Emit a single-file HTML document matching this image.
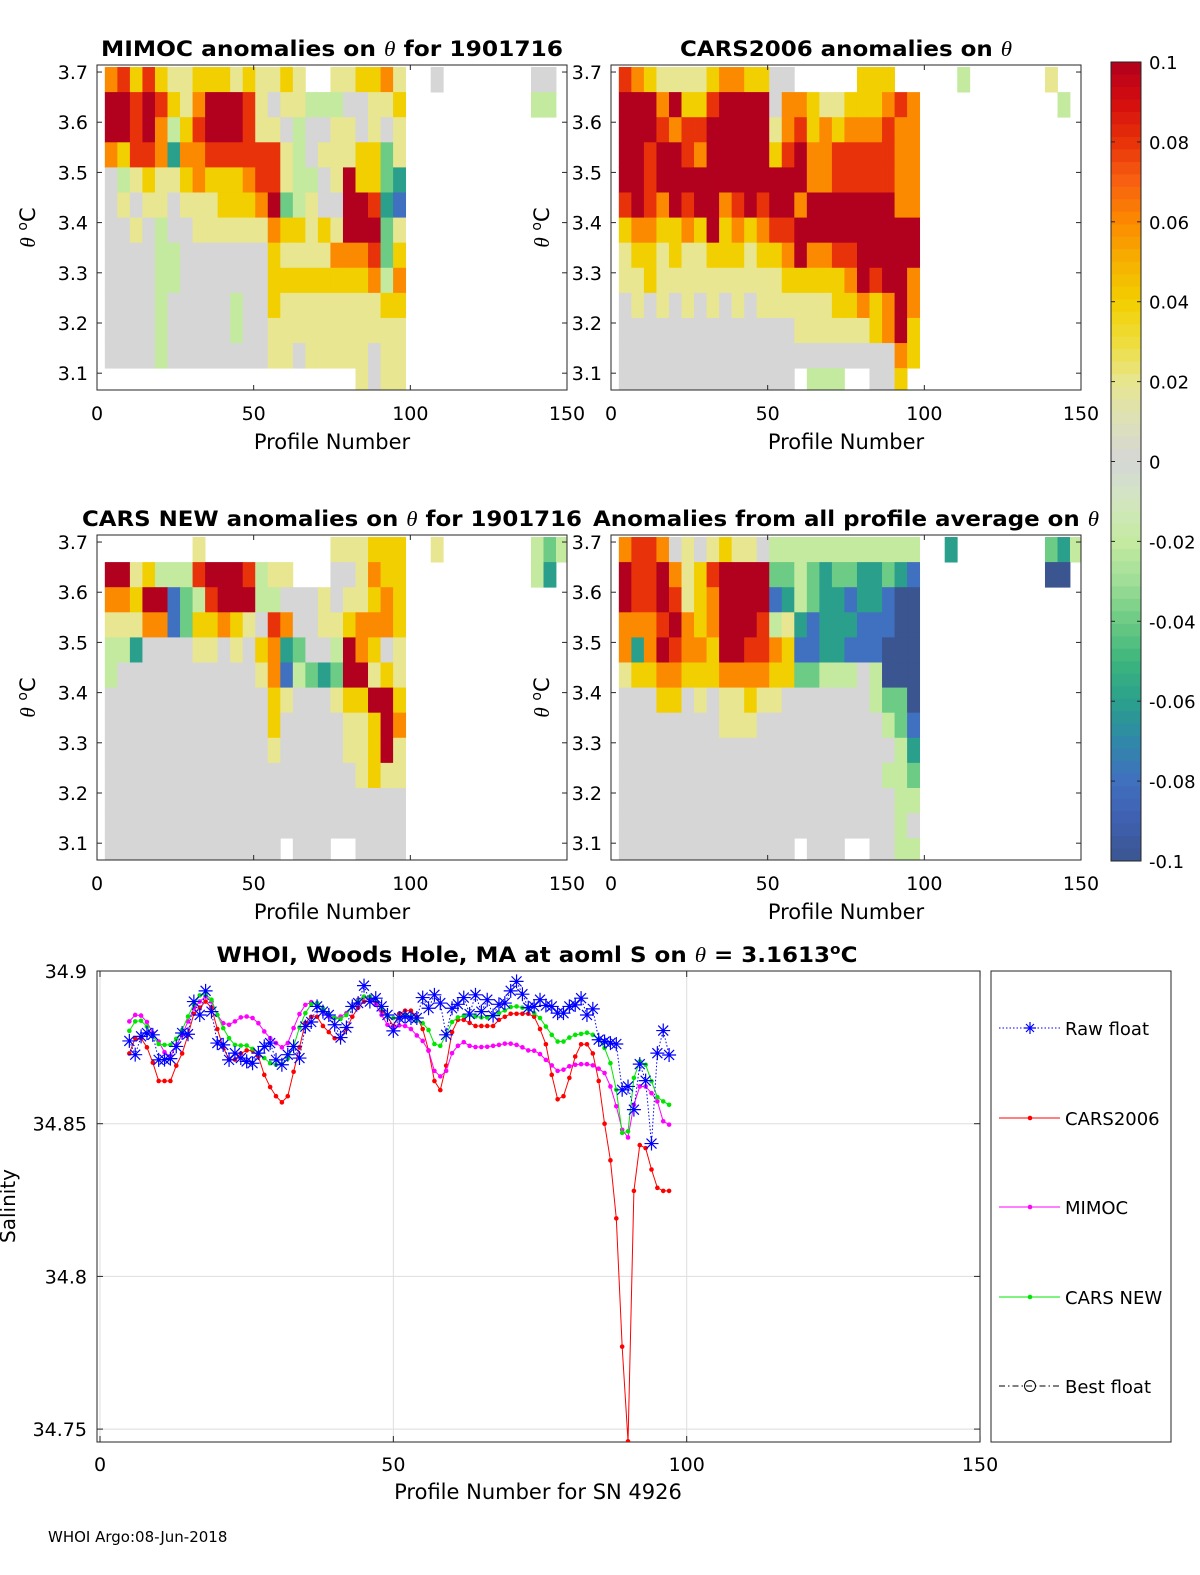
<!DOCTYPE html>
<html><head><meta charset="utf-8">
<style>
html,body{margin:0;padding:0;background:#fff;}
svg{display:block;}
text{font-family:"DejaVu Sans","Liberation Sans",sans-serif;fill:#000;}
</style></head>
<body>
<svg id="fig" width="1200" height="1575" viewBox="0 0 1200 1575" xmlns="http://www.w3.org/2000/svg"></svg>
<script>
// ---------- heatmap data (one char per 4-profile column, per theta row) ----------
// char code: 'A'=-0.1 ... 'F'=0 ... 'K'=0.1 (step 0.02); '.' = no data
const thetaRowTops = [3.71,3.66,3.61,3.56,3.51,3.46,3.41,3.36,3.31,3.26,3.21,3.16,3.11];
const colStartProfile = 2.5;
const colWidthProfiles = 4;
const mimocRows = [
"IJHJHGGHHHGHGGHG..GGHHIG..F.......FF.",
"KKJKJHGIKKKJGFGGEEEFFGGH..........EE.",
"KKJKIEHJKKKJGGFEFFGGFGFG",
"IHJJICIIJJJJJJGEFGGGHHDG",
"FEGHGGHIHHHIJJGEEFGKHHDC",
"FGFGGFGGGHHHIKDEGFFKKJCB",
"FFGFEFFGGGGGGIHHGHGKKKDG",
"FFFFEEFFFFFFFHGGGGIIIJDH",
"FFFFEEFFFFFFFHHHHHHHHIEI",
"FFFFEFFFFFEFFHGGGGGGGGHH",
"FFFFEFFFFFEFFGGGGGGGGGGG",
"FFFFEFFFFFFFFGGFGGGGGFGG",
"....................GFGG"];
const cars2006Rows = [
"JIHGGGGHIIHHFF.....HHH.....E......G..",
"KKKIKHHJKKKKFIIHGGHHHIJI...........E.",
"KKKJIJJKKKKKGIJHIHIIIJII",
"KKJKKJIKKKKKHJKIIJJJJJII",
"KKJKKKKKKKKKKKKIIJJJJJII",
"JKJIKJKKIJKJKKIKKKKKKKII",
"HIIHHIHKHIHIJJKKKKKKKKKK",
"GHHGHGGHHHGHHIKIIJJKKKKK",
"GGHGGGGGGGGGGHHHHHIKJKKI",
"FGFGFGFGFGFGGGGGGHHIHIKI",
"FFFFFFFFFFFFFFGGGGGGHIKH",
"FFFFFFFFFFFFFFFFFFFFFFIH",
"FFFFFFFFFFFFFF.EEE..FFH."];
const carsNewRows = [
".......G..........GGGHHH..G.......EDE",
"KKGHEEEJKKKJEGG...FFGIHH..........EC.",
"IIHKKBDEJKKKEEFFFGFGGHIH",
"GGGIIBDHHIHGFJIFFGGHIIIH",
"EECFFFFGGFGFHICDFFEKIHFG",
"EFFFFFFFFFFFGIBEDCDKKGHG",
"FFFFFFFFFFFFFHGFFFGHHKKH",
"FFFFFFFFFFFFFHFFFFFGGHKI",
"FFFFFFFFFFFFFGFFFFFGGHKG",
"FFFFFFFFFFFFFFFFFFFFGHGG",
"FFFFFFFFFFFFFFFFFFFFFFFF",
"FFFFFFFFFFFFFFFFFFFFFFFF",
"FFFFFFFFFFFFFF.FFF..FFFF"];
const avgRows = [
"IJJIFGFGHGGFEEEEEEEEEEEE..C.......DCE",
"KJJKIGHJKKKKDDEDCDDCCDCB..........AA.",
"KJJKJGHIKKKKBCEDCCBCCBAA",
"IIIJKIHIKKKJEGCBCCCBBBAA",
"ICIKJIIHKKJJIHBBCCBBBAAA",
"GHHIIHHHIIIIHHDDEEEFEAAA",
"FFFHHFGFGGHGGFFFFFFFEDDA",
"FFFFFFFFGGGFFFFFFFFFFEDB",
"FFFFFFFFFFFFFFFFFFFFFFEC",
"FFFFFFFFFFFFFFFFFFFFFEED",
"FFFFFFFFFFFFFFFFFFFFFFEE",
"FFFFFFFFFFFFFFFFFFFFFFEF",
"FFFFFFFFFFFFFF.FFF..FFEE"];
const thetaTicks = [3.1,3.2,3.3,3.4,3.5,3.6,3.7];
const profileTicks = [0,50,100,150];
const cbarTicks = [0.1,0.08,0.06,0.04,0.02,0,-0.02,-0.04,-0.06,-0.08,-0.1];
const cbarTickLabels = ["0.1","0.08","0.06","0.04","0.02","0","-0.02","-0.04","-0.06","-0.08","-0.1"];

// ---------- salinity line data (profiles 5..97) ----------
const profiles = [];
for (let p = 5; p <= 97; p++) profiles.push(p);
const rawFloat = [34.8771,34.8726,34.8786,34.8797,34.8791,34.8709,34.871,34.8713,34.8753,34.8797,34.8793,34.890,34.8856,34.8935,34.8867,34.8764,34.8758,34.8709,34.8731,34.8715,34.8704,34.8698,34.8731,34.8753,34.8764,34.8709,34.8693,34.8726,34.8753,34.8715,34.8818,34.8833,34.8884,34.8867,34.8856,34.8824,34.8782,34.8815,34.8884,34.8895,34.8952,34.890,34.8911,34.8884,34.8856,34.8804,34.8846,34.8851,34.8846,34.8846,34.8913,34.8878,34.8922,34.8895,34.8791,34.8878,34.8891,34.8913,34.8859,34.8922,34.8867,34.8906,34.8854,34.8891,34.8895,34.8935,34.8966,34.8924,34.888,34.8884,34.8906,34.8887,34.8884,34.8862,34.8862,34.8884,34.8889,34.8911,34.8856,34.8876,34.8775,34.8769,34.8764,34.8761,34.8611,34.8622,34.8546,34.8695,34.8641,34.8435,34.8731,34.8805,34.8725];
const cars2006 = [34.873,34.878,34.878,34.875,34.870,34.864,34.864,34.864,34.869,34.873,34.879,34.886,34.888,34.890,34.888,34.881,34.875,34.871,34.871,34.873,34.874,34.874,34.872,34.866,34.862,34.859,34.857,34.859,34.867,34.875,34.883,34.885,34.885,34.882,34.880,34.878,34.878,34.881,34.885,34.888,34.890,34.891,34.890,34.887,34.885,34.882,34.886,34.887,34.887,34.885,34.881,34.874,34.864,34.861,34.869,34.880,34.884,34.884,34.883,34.882,34.882,34.882,34.882,34.884,34.885,34.886,34.886,34.886,34.886,34.885,34.881,34.876,34.866,34.858,34.859,34.865,34.872,34.876,34.876,34.873,34.864,34.850,34.838,34.819,34.777,34.746,34.828,34.843,34.842,34.835,34.829,34.828,34.828];
const mimoc = [34.8835,34.8856,34.8854,34.8833,34.8797,34.8769,34.8734,34.872,34.8756,34.8791,34.8835,34.8878,34.890,34.8916,34.890,34.8856,34.8829,34.8824,34.8835,34.8848,34.8851,34.8846,34.8829,34.8802,34.878,34.8764,34.875,34.8764,34.8813,34.8859,34.8889,34.8898,34.8889,34.8867,34.8851,34.8846,34.8851,34.8862,34.8884,34.8906,34.8916,34.8911,34.8889,34.8856,34.8824,34.8815,34.8822,34.882,34.881,34.8789,34.8771,34.8739,34.8673,34.8655,34.8673,34.8731,34.8755,34.8767,34.8755,34.8751,34.8751,34.8752,34.8755,34.8758,34.8762,34.8762,34.8758,34.875,34.874,34.8739,34.8728,34.8709,34.8691,34.8673,34.8677,34.8688,34.8693,34.8695,34.8695,34.8691,34.868,34.8666,34.8622,34.8557,34.848,34.8455,34.8562,34.8622,34.8622,34.860,34.8573,34.8508,34.8497];
const carsNew = [34.8804,34.8835,34.8837,34.8818,34.8786,34.8761,34.8758,34.8758,34.8778,34.8807,34.8851,34.8891,34.892,34.8924,34.8906,34.8856,34.8813,34.878,34.8758,34.8756,34.8756,34.8745,34.8731,34.8715,34.8698,34.8693,34.8695,34.8713,34.8753,34.8815,34.8862,34.8891,34.8895,34.8878,34.8859,34.8846,34.8843,34.8856,34.8884,34.8902,34.8916,34.8916,34.8906,34.8878,34.8851,34.8846,34.8848,34.8856,34.8851,34.8837,34.8829,34.8807,34.8761,34.8755,34.8791,34.8833,34.8848,34.8853,34.8856,34.8851,34.8848,34.8848,34.8854,34.8862,34.8871,34.8882,34.8884,34.888,34.8876,34.8862,34.8846,34.8818,34.8791,34.8769,34.8769,34.8782,34.8791,34.8794,34.8798,34.8791,34.8775,34.8748,34.8698,34.8611,34.847,34.8475,34.865,34.8704,34.8693,34.8639,34.8587,34.8573,34.8562];
const salTicks = [34.75,34.8,34.85,34.9];
const salTickLabels = ["34.75","34.8","34.85","34.9"];
const legendLabels = ["Raw float","CARS2006","MIMOC","CARS NEW","Best float"];

const NS = "http://www.w3.org/2000/svg";
const svg = document.getElementById('fig');
function mk(tag, attrs, parent){
  const e = document.createElementNS(NS, tag);
  for (const k in attrs) e.setAttribute(k, attrs[k]);
  (parent||svg).appendChild(e);
  return e;
}
function txt(str, attrs, parent){ const t = mk('text', attrs, parent); t.textContent = str; return t; }

// colormap
const cmapStops = [[-0.1,[58,85,144]],[-0.09,[64,96,176]],[-0.08,[64,112,192]],[-0.07,[48,136,168]],[-0.06,[42,160,140]],[-0.05,[61,181,124]],[-0.04,[108,203,132]],[-0.03,[160,222,152]],[-0.02,[196,234,160]],[-0.01,[210,230,192]],[0,[214,214,214]],[0.01,[221,224,184]],[0.02,[232,230,144]],[0.03,[238,221,58]],[0.04,[242,207,0]],[0.05,[246,176,0]],[0.06,[252,138,0]],[0.07,[248,96,16]],[0.08,[232,51,10]],[0.09,[212,13,13]],[0.1,[178,0,31]]];
function cmap(v){
  v = Math.max(-0.1, Math.min(0.1, v));
  for (let i=0;i<cmapStops.length-1;i++){
    const a=cmapStops[i], b=cmapStops[i+1];
    if (v>=a[0]-1e-9 && v<=b[0]+1e-9){
      const t=(v-a[0])/(b[0]-a[0]);
      const c=a[1].map((x,j)=>Math.round(x+(b[1][j]-x)*t));
      return 'rgb('+c.join(',')+')';
    }
  }
  return '#d6d6d6';
}
function charVal(ch){ return (ch.charCodeAt(0)-70)*0.02; }

const thetaTop=3.714, thetaBot=3.0665;
function drawPanel(x0, y0, rows, title, titleLen, name){
  const W=470, H=325;
  const g = mk('g', {});
  
  
  const xs = p => x0 + p*W/150;
  const ys = th => y0 + (thetaTop-th)/(thetaTop-thetaBot)*H;
  const cid = 'clip-'+name;
  const cp = mk('clipPath', {id:cid}, g);
  mk('rect', {x:x0, y:y0, width:W, height:H}, cp);
  const cells = mk('g', {'clip-path':'url(#'+cid+')'}, g);
  
  
  rows.forEach((row, ri) => {
    const th1 = thetaRowTops[ri], th0 = th1-0.05;
    for (let c=0;c<row.length;c++){
      const ch=row[c];
      if (ch==='.') continue;
      const p0 = colStartProfile + c*colWidthProfiles;
      const r = mk('rect', {x:xs(p0).toFixed(2), y:ys(th1).toFixed(2), width:(xs(p0+colWidthProfiles)-xs(p0)+0.4).toFixed(2), height:(ys(th0)-ys(th1)+0.4).toFixed(2), fill:cmap(charVal(ch))}, cells);
      
      
    }
  });
  const box = mk('rect', {x:x0, y:y0, width:W, height:H, fill:'none', stroke:'#262626', 'stroke-width':1}, g);
  
  
  profileTicks.forEach(p => {
    const x = xs(p);
    mk('line', {x1:x, x2:x, y1:y0+H, y2:y0+H-5, stroke:'#262626'}, g);
    mk('line', {x1:x, x2:x, y1:y0, y2:y0+5, stroke:'#262626'}, g);
    const t = txt(String(p), {x:x, y:y0+H+30, 'font-size':19, 'text-anchor':'middle'}, g);
    
    
  });
  thetaTicks.forEach(th => {
    const y = ys(th);
    mk('line', {x1:x0, x2:x0+5, y1:y, y2:y, stroke:'#262626'}, g);
    mk('line', {x1:x0+W, x2:x0+W-5, y1:y, y2:y, stroke:'#262626'}, g);
    const t = txt(th.toFixed(1), {x:x0-9, y:y+7, 'font-size':19, 'text-anchor':'end'}, g);
    
    
  });
  const xl = txt('Profile Number', {x:x0+W/2, y:y0+H+59, 'font-size':21, 'text-anchor':'middle'}, g);
  
  
  const yl = mk('text', {transform:'translate('+(x0-62)+','+(y0+H/2)+') rotate(-90)', 'font-size':21, 'text-anchor':'middle'}, g);
  yl.innerHTML = '<tspan font-family="Liberation Serif,serif" font-style="italic">θ</tspan> <tspan dy="-8" font-size="14">o</tspan><tspan dy="8">C</tspan>';
  
  
  const tt = txt('', {x:x0+W/2, y:y0-9, 'font-size':21, 'font-weight':'bold', 'text-anchor':'middle', textLength:titleLen, lengthAdjust:'spacingAndGlyphs'}, g);
  tt.innerHTML = title;
  
  
}
const TH = '<tspan font-family="Liberation Serif,serif" font-style="italic" font-weight="normal">θ</tspan>';
drawPanel(97, 65, mimocRows, 'MIMOC anomalies on '+TH+'  for 1901716', 462, 'mimoc-panel');
drawPanel(611, 65, cars2006Rows, 'CARS2006 anomalies on '+TH, 332, 'cars2006-panel');
drawPanel(97, 535, carsNewRows, 'CARS NEW anomalies on '+TH+' for 1901716', 500, 'cars-new-panel');
drawPanel(611, 535, avgRows, 'Anomalies from all profile average on '+TH, 506, 'all-average-panel');

// colorbar
(function(){
  const x=1111, y=62, w=30, h=799;
  const g = mk('g', {});
  
  
  const n=64;
  for (let i=0;i<n;i++){
    const v = 0.1 - (i+0.5)*0.2/n;
    mk('rect', {x:x, y:(y+i*h/n).toFixed(2), width:w, height:(h/n+0.5).toFixed(2), fill:cmap(v)}, g);
  }
  mk('rect', {x:x, y:y, width:w, height:h, fill:'none', stroke:'#262626'}, g);
  cbarTicks.forEach((v,i) => {
    const yy = y + (0.1-v)/0.2*h;
    mk('line', {x1:x, x2:x+4, y1:yy, y2:yy, stroke:'#262626'}, g);
    mk('line', {x1:x+w, x2:x+w-4, y1:yy, y2:yy, stroke:'#262626'}, g);
    const t = txt(cbarTickLabels[i], {x:x+38, y:yy+7, 'font-size':18}, g);
    
    
  });
})();

// bottom salinity chart
(function(){
  const L=97, R=980, T=971, B=1442;
  const xs = p => 100 + p*5.867;
  const ys = s => 971 + (34.9 - s)*3054;
  const g = mk('g', {});
  
  
  const cp = mk('clipPath', {id:'salclip'}, g);
  mk('rect', {x:L, y:T, width:R-L, height:B-T}, cp);
  // grid
  profileTicks.forEach(p => {
    const x=xs(p);
    mk('line', {x1:x, x2:x, y1:T, y2:B, stroke:'#dedede'}, g);
  });
  salTicks.forEach(s => {
    const y=ys(s);
    mk('line', {x1:L, x2:R, y1:y, y2:y, stroke:'#dedede'}, g);
  });
  mk('rect', {x:L, y:T, width:R-L, height:B-T, fill:'none', stroke:'#262626'}, g);
  profileTicks.forEach(p => {
    const x=xs(p);
    mk('line', {x1:x, x2:x, y1:B, y2:B-6, stroke:'#262626'}, g);
    mk('line', {x1:x, x2:x, y1:T, y2:T+6, stroke:'#262626'}, g);
    const t = txt(String(p), {x:x, y:B+29, 'font-size':19, 'text-anchor':'middle'}, g);
    
    
  });
  salTicks.forEach((s,i) => {
    const y=ys(s);
    mk('line', {x1:L, x2:L+6, y1:y, y2:y, stroke:'#262626'}, g);
    mk('line', {x1:R, x2:R-6, y1:y, y2:y, stroke:'#262626'}, g);
    const t = txt(salTickLabels[i], {x:L-10, y:y+7, 'font-size':19, 'text-anchor':'end'}, g);
    
    
  });
  const pg = mk('g', {'clip-path':'url(#salclip)'}, g);
  function series(vals, color, name, dotted){
    const sg = mk('g', {}, pg);
    
    
    const pts = vals.map((v,i)=> xs(profiles[i]).toFixed(2)+','+ys(v).toFixed(2)).join(' ');
    const pl = mk('polyline', {points:pts, fill:'none', stroke:color, 'stroke-width':1, 'stroke-dasharray':dotted?'1.5,2':'none'}, sg);
    
    
    vals.forEach((v,i) => {
      const cx = xs(profiles[i]), cy = ys(v);
      if (dotted){
        const s=7;
        const m = mk('path', {d:`M${cx-s},${cy}H${cx+s}M${cx},${cy-s}V${cy+s}M${cx-5},${cy-5}L${cx+5},${cy+5}M${cx-5},${cy+5}L${cx+5},${cy-5}`, stroke:color, 'stroke-width':1.2, fill:'none'}, sg);
        
        
      } else {
        const m = mk('circle', {cx:cx, cy:cy, r:2.3, fill:color}, sg);
        
        
      }
    });
  }
  series(cars2006, '#ff0000', 'cars2006-series', false);
  series(mimoc, '#ff00ff', 'mimoc-series', false);
  series(carsNew, '#00e600', 'cars-new-series', false);
  series(rawFloat, '#0000ff', 'raw-float-series', true);

  const tt = txt('', {x:537, y:962, 'font-size':21, 'font-weight':'bold', 'text-anchor':'middle', textLength:641, lengthAdjust:'spacingAndGlyphs'}, g);
  tt.innerHTML = 'WHOI, Woods Hole, MA at aoml S on '+TH+' = 3.1613<tspan dy="-8" font-size="14">o</tspan><tspan dy="8">C</tspan>';
  
  
  const xl = txt('Profile Number for SN 4926', {x:538, y:1499, 'font-size':21, 'text-anchor':'middle'}, g);
  
  
  const yl = txt('Salinity', {transform:'translate(15,1206) rotate(-90)', 'font-size':20, 'text-anchor':'middle'}, g);
  
  

  // legend
  const lg = mk('g', {});
  
  
  mk('rect', {x:991, y:971, width:180, height:471, fill:'#fff', stroke:'#262626'}, lg);
  const colors = ['#0000ff','#ff0000','#ff00ff','#00e600','#000'];
  const ly = [1028,1118,1207,1297,1386];
  legendLabels.forEach((lab,i) => {
    const eg = mk('g', {}, lg);
    
    
    const y = ly[i];
    const dash = i===0 ? '1.5,2' : (i===4 ? '6,3,1.5,3' : 'none');
    mk('line', {x1:999, x2:1060, y1:y, y2:y, stroke:colors[i], 'stroke-dasharray':dash}, eg);
    const cx = 1030;
    if (i===0) mk('path', {d:`M${cx-6},${y}H${cx+6}M${cx},${y-6}V${y+6}M${cx-4},${y-4}L${cx+4},${y+4}M${cx-4},${y+4}L${cx+4},${y-4}`, stroke:colors[0], 'stroke-width':1.2}, eg);
    else if (i===4) mk('circle', {cx:cx, cy:y, r:5.5, fill:'none', stroke:'#000'}, eg);
    else mk('circle', {cx:cx, cy:y, r:2.3, fill:colors[i]}, eg);
    txt(lab, {x:1065, y:y+7, 'font-size':18}, eg);
  });
})();

const foot = txt('WHOI Argo:08-Jun-2018', {x:48, y:1542, 'font-size':15});


</script>
</body></html>
